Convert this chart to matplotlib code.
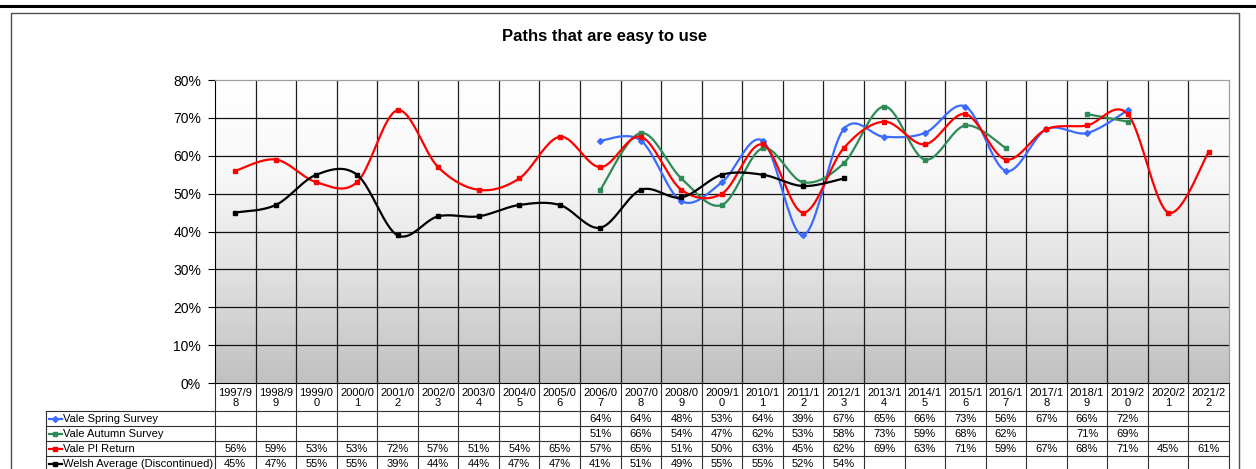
import matplotlib
matplotlib.use("Agg")
import matplotlib.pyplot as plt
import numpy as np
from matplotlib.lines import Line2D
from matplotlib.colors import LinearSegmentedColormap
from matplotlib.transforms import blended_transform_factory

plt.rcParams["font.family"] = ["Liberation Sans", "DejaVu Sans"]

W, H = 1256, 469

years = [
    "1997/98", "1998/99", "1999/00", "2000/01", "2001/02", "2002/03", "2003/04",
    "2004/05", "2005/06", "2006/07", "2007/08", "2008/09", "2009/10", "2010/11",
    "2011/12", "2012/13", "2013/14", "2014/15", "2015/16", "2016/17", "2017/18",
    "2018/19", "2019/20", "2020/21", "2021/22",
]
spring = [None] * 9 + [64, 64, 48, 53, 64, 39, 67, 65, 66, 73, 56, 67, 66, 72, None, None]
autumn = [None] * 9 + [51, 66, 54, 47, 62, 53, 58, 73, 59, 68, 62, None, 71, 69, None, None]
pi_return = [56, 59, 53, 53, 72, 57, 51, 54, 65, 57, 65, 51, 50, 63, 45, 62,
             69, 63, 71, 59, 67, 68, 71, 45, 61]
welsh = [45, 47, 55, 55, 39, 44, 44, 47, 47, 41, 51, 49, 55, 55, 52, 54] + [None] * 9

series = [
    ("Vale Spring Survey", spring, "#3c6cff", "D"),
    ("Vale Autumn Survey", autumn, "#2e8b57", "s"),
    ("Vale PI Return", pi_return, "#ff0000", "s"),
    ("Welsh Average (Discontinued)", welsh, "#000000", "s"),
]


def fx(px):
    return px / W


def fy(py):
    return 1 - py / H


def excel_smooth(xs, ys, steps=24):
    """Bezier smoothing like Excel's smoothed line."""
    xs = np.asarray(xs, float)
    ys = np.asarray(ys, float)
    if len(xs) < 2:
        return xs, ys
    px = np.concatenate([[xs[0]], xs, [xs[-1]]])
    py = np.concatenate([[ys[0]], ys, [ys[-1]]])
    out_x, out_y = [], []
    t = np.linspace(0, 1, steps)
    for i in range(1, len(px) - 2):
        p0 = np.array([px[i], py[i]])
        p3 = np.array([px[i + 1], py[i + 1]])
        c1 = p0 + (np.array([px[i + 1], py[i + 1]]) - np.array([px[i - 1], py[i - 1]])) / 6
        c2 = p3 - (np.array([px[i + 2], py[i + 2]]) - np.array([px[i], py[i]])) / 6
        b = ((1 - t) ** 3)[:, None] * p0 + (3 * (1 - t) ** 2 * t)[:, None] * c1 \
            + (3 * (1 - t) * t ** 2)[:, None] * c2 + (t ** 3)[:, None] * p3
        out_x.extend(b[:, 0])
        out_y.extend(b[:, 1])
    return np.array(out_x), np.array(out_y)


def runs(values):
    seg = []
    for i, v in enumerate(values):
        if v is None:
            if seg:
                yield seg
            seg = []
        else:
            seg.append((i, v))
    if seg:
        yield seg


fig = plt.figure(figsize=(W / 100, H / 100), dpi=100)
fig.patch.set_facecolor("white")

# plot area
left, right, top, bottom = 215, 1229, 80, 383
ax = fig.add_axes([fx(left), fy(bottom), fx(right - left), (bottom - top) / H])
n = len(years)
ax.set_xlim(-0.5, n - 0.5)
ax.set_ylim(0, 80)

# white at the top fading to grey at the bottom
grad = np.linspace(0, 1, 256)[:, None]
cmap = LinearSegmentedColormap.from_list(
    "bg", [(0, "#ffffff"), (0.3, "#f8f8f8"), (0.6, "#e4e4e4"), (1, "#c0c0c0")])
ax.imshow(grad, extent=[-0.5, n - 0.5, 0, 80], origin="upper", aspect="auto",
          cmap=cmap, vmin=0, vmax=1, zorder=0)

for k in range(1, n):
    ax.axvline(k - 0.5, color="#202020", lw=0.9, zorder=1)
for v in range(10, 80, 10):
    ax.axhline(v, color="#101010", lw=0.9, zorder=1)

for name, vals, color, mk in series:
    for seg in runs(vals):
        xs = [s[0] for s in seg]
        ys = [s[1] for s in seg]
        sx, sy = excel_smooth(xs, ys)
        ax.plot(sx, sy, color=color, lw=1.6, zorder=3, solid_capstyle="round")
        ax.plot(xs, ys, ls="none", marker=mk, ms=3, color=color, zorder=4)

ax.set_yticks(range(0, 81, 10))
ax.set_yticklabels([f"{v}%" for v in range(0, 81, 10)], fontsize=10)
ax.set_xticks([])
ax.tick_params(axis="y", length=5, width=0.8, color="#000000", pad=5)
for s in ["top", "right"]:
    ax.spines[s].set_color("#a0a0a0")
    ax.spines[s].set_linewidth(0.9)
ax.spines["left"].set_color("#000000")
ax.spines["bottom"].set_color("#000000")

# data table below the plot
tr = blended_transform_factory(ax.transData, fig.transFigure)
row_edges = [383, 411, 426, 441, 456, 471]
tcol = "#303030"
for k in range(n + 1):
    fig.add_artist(Line2D([k - 0.5, k - 0.5], [fy(row_edges[0]), fy(row_edges[-1])],
                          transform=tr, color=tcol, lw=0.8))
for py in row_edges[1:]:
    fig.add_artist(Line2D([fx(46), fx(right)], [fy(py), fy(py)],
                          transform=fig.transFigure, color=tcol, lw=0.8))
fig.add_artist(Line2D([fx(46), fx(46)], [fy(row_edges[1]), fy(row_edges[-1])],
                      transform=fig.transFigure, color=tcol, lw=0.8))

for i, lab in enumerate(years):
    fig.text(i, fy((row_edges[0] + row_edges[1]) / 2 + 1), lab[:6] + "\n" + lab[6:],
             transform=tr, ha="center", va="center", fontsize=8, linespacing=1.05)

for r, (name, vals, color, mk) in enumerate(series):
    yc = fy((row_edges[r + 1] + row_edges[r + 2]) / 2)
    fig.add_artist(Line2D([fx(49), fx(62)], [yc, yc], transform=fig.transFigure,
                          color=color, lw=1.6))
    fig.add_artist(Line2D([fx(55.5)], [yc], transform=fig.transFigure, color=color,
                          marker=mk, ms=3, ls="none"))
    fig.text(fx(63), yc, name, ha="left", va="center", fontsize=8)
    for i, v in enumerate(vals):
        if v is not None:
            fig.text(i, yc, f"{v}%", transform=tr, ha="center", va="center", fontsize=8)

# title, chart frame and top rule
fig.text(fx(605), fy(36), "Paths that are easy to use", ha="center", va="center",
         fontsize=12, fontweight="bold")
fig.add_artist(Line2D([fx(11), fx(11), fx(1239), fx(1239)], [0, fy(13), fy(13), 0],
                      transform=fig.transFigure, color="#505050", lw=1.0))
fig.add_artist(Line2D([0, 1], [fy(6), fy(6)], transform=fig.transFigure,
                      color="#000000", lw=2.2))

fig.savefig("out.png", dpi=100)
